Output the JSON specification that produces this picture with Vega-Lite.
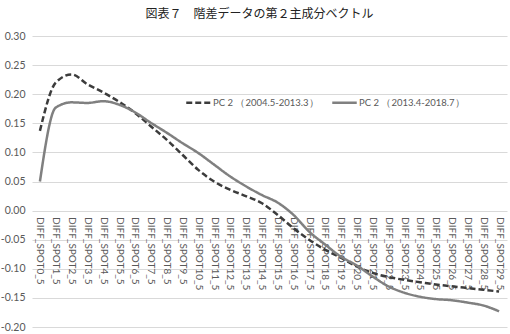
{
  "$schema": "https://vega.github.io/schema/vega-lite/v6.json",
  "width": 475,
  "height": 291,
  "autosize": {"type": "none"},
  "padding": {"left": 32, "top": 36, "right": 3, "bottom": 7},
  "background": "white",
  "title": {
    "text": "図表７　階差データの第２主成分ベクトル",
    "font": "Noto Sans CJK JP",
    "fontSize": 12,
    "fontWeight": "normal",
    "color": "#222222",
    "anchor": "middle",
    "frame": "group",
    "dx": -10,
    "offset": 10
  },
  "config": {
    "view": {"stroke": null},
    "font": "Lato"
  },
  "datasets": {
    "pc": [
      {"spot": "DIFF_SPOT0_5", "series": "PC 2 （2004.5-2013.3）", "value": 0.137},
      {"spot": "DIFF_SPOT1_5", "series": "PC 2 （2004.5-2013.3）", "value": 0.220},
      {"spot": "DIFF_SPOT2_5", "series": "PC 2 （2004.5-2013.3）", "value": 0.234},
      {"spot": "DIFF_SPOT3_5", "series": "PC 2 （2004.5-2013.3）", "value": 0.217},
      {"spot": "DIFF_SPOT4_5", "series": "PC 2 （2004.5-2013.3）", "value": 0.203},
      {"spot": "DIFF_SPOT5_5", "series": "PC 2 （2004.5-2013.3）", "value": 0.187},
      {"spot": "DIFF_SPOT6_5", "series": "PC 2 （2004.5-2013.3）", "value": 0.168},
      {"spot": "DIFF_SPOT7_5", "series": "PC 2 （2004.5-2013.3）", "value": 0.145},
      {"spot": "DIFF_SPOT8_5", "series": "PC 2 （2004.5-2013.3）", "value": 0.122},
      {"spot": "DIFF_SPOT9_5", "series": "PC 2 （2004.5-2013.3）", "value": 0.096},
      {"spot": "DIFF_SPOT10_5", "series": "PC 2 （2004.5-2013.3）", "value": 0.070},
      {"spot": "DIFF_SPOT11_5", "series": "PC 2 （2004.5-2013.3）", "value": 0.050},
      {"spot": "DIFF_SPOT12_5", "series": "PC 2 （2004.5-2013.3）", "value": 0.036},
      {"spot": "DIFF_SPOT13_5", "series": "PC 2 （2004.5-2013.3）", "value": 0.025},
      {"spot": "DIFF_SPOT14_5", "series": "PC 2 （2004.5-2013.3）", "value": 0.013},
      {"spot": "DIFF_SPOT15_5", "series": "PC 2 （2004.5-2013.3）", "value": -0.007},
      {"spot": "DIFF_SPOT16_5", "series": "PC 2 （2004.5-2013.3）", "value": -0.030},
      {"spot": "DIFF_SPOT17_5", "series": "PC 2 （2004.5-2013.3）", "value": -0.050},
      {"spot": "DIFF_SPOT18_5", "series": "PC 2 （2004.5-2013.3）", "value": -0.067},
      {"spot": "DIFF_SPOT19_5", "series": "PC 2 （2004.5-2013.3）", "value": -0.081},
      {"spot": "DIFF_SPOT20_5", "series": "PC 2 （2004.5-2013.3）", "value": -0.096},
      {"spot": "DIFF_SPOT21_5", "series": "PC 2 （2004.5-2013.3）", "value": -0.107},
      {"spot": "DIFF_SPOT22_5", "series": "PC 2 （2004.5-2013.3）", "value": -0.114},
      {"spot": "DIFF_SPOT23_5", "series": "PC 2 （2004.5-2013.3）", "value": -0.119},
      {"spot": "DIFF_SPOT24_5", "series": "PC 2 （2004.5-2013.3）", "value": -0.123},
      {"spot": "DIFF_SPOT25_5", "series": "PC 2 （2004.5-2013.3）", "value": -0.127},
      {"spot": "DIFF_SPOT26_5", "series": "PC 2 （2004.5-2013.3）", "value": -0.130},
      {"spot": "DIFF_SPOT27_5", "series": "PC 2 （2004.5-2013.3）", "value": -0.133},
      {"spot": "DIFF_SPOT28_5", "series": "PC 2 （2004.5-2013.3）", "value": -0.136},
      {"spot": "DIFF_SPOT29_5", "series": "PC 2 （2004.5-2013.3）", "value": -0.139},
      {"spot": "DIFF_SPOT0_5", "series": "PC 2 （2013.4-2018.7）", "value": 0.050},
      {"spot": "DIFF_SPOT1_5", "series": "PC 2 （2013.4-2018.7）", "value": 0.177},
      {"spot": "DIFF_SPOT2_5", "series": "PC 2 （2013.4-2018.7）", "value": 0.186},
      {"spot": "DIFF_SPOT3_5", "series": "PC 2 （2013.4-2018.7）", "value": 0.185},
      {"spot": "DIFF_SPOT4_5", "series": "PC 2 （2013.4-2018.7）", "value": 0.188},
      {"spot": "DIFF_SPOT5_5", "series": "PC 2 （2013.4-2018.7）", "value": 0.182},
      {"spot": "DIFF_SPOT6_5", "series": "PC 2 （2013.4-2018.7）", "value": 0.169},
      {"spot": "DIFF_SPOT7_5", "series": "PC 2 （2013.4-2018.7）", "value": 0.151},
      {"spot": "DIFF_SPOT8_5", "series": "PC 2 （2013.4-2018.7）", "value": 0.134},
      {"spot": "DIFF_SPOT9_5", "series": "PC 2 （2013.4-2018.7）", "value": 0.116},
      {"spot": "DIFF_SPOT10_5", "series": "PC 2 （2013.4-2018.7）", "value": 0.099},
      {"spot": "DIFF_SPOT11_5", "series": "PC 2 （2013.4-2018.7）", "value": 0.079},
      {"spot": "DIFF_SPOT12_5", "series": "PC 2 （2013.4-2018.7）", "value": 0.059},
      {"spot": "DIFF_SPOT13_5", "series": "PC 2 （2013.4-2018.7）", "value": 0.042},
      {"spot": "DIFF_SPOT14_5", "series": "PC 2 （2013.4-2018.7）", "value": 0.027},
      {"spot": "DIFF_SPOT15_5", "series": "PC 2 （2013.4-2018.7）", "value": 0.014},
      {"spot": "DIFF_SPOT16_5", "series": "PC 2 （2013.4-2018.7）", "value": -0.007},
      {"spot": "DIFF_SPOT17_5", "series": "PC 2 （2013.4-2018.7）", "value": -0.036},
      {"spot": "DIFF_SPOT18_5", "series": "PC 2 （2013.4-2018.7）", "value": -0.058},
      {"spot": "DIFF_SPOT19_5", "series": "PC 2 （2013.4-2018.7）", "value": -0.079},
      {"spot": "DIFF_SPOT20_5", "series": "PC 2 （2013.4-2018.7）", "value": -0.094},
      {"spot": "DIFF_SPOT21_5", "series": "PC 2 （2013.4-2018.7）", "value": -0.113},
      {"spot": "DIFF_SPOT22_5", "series": "PC 2 （2013.4-2018.7）", "value": -0.130},
      {"spot": "DIFF_SPOT23_5", "series": "PC 2 （2013.4-2018.7）", "value": -0.141},
      {"spot": "DIFF_SPOT24_5", "series": "PC 2 （2013.4-2018.7）", "value": -0.148},
      {"spot": "DIFF_SPOT25_5", "series": "PC 2 （2013.4-2018.7）", "value": -0.152},
      {"spot": "DIFF_SPOT26_5", "series": "PC 2 （2013.4-2018.7）", "value": -0.154},
      {"spot": "DIFF_SPOT27_5", "series": "PC 2 （2013.4-2018.7）", "value": -0.158},
      {"spot": "DIFF_SPOT28_5", "series": "PC 2 （2013.4-2018.7）", "value": -0.163},
      {"spot": "DIFF_SPOT29_5", "series": "PC 2 （2013.4-2018.7）", "value": -0.173}
    ]
  },
  "data": {"name": "pc"},
  "mark": {"type": "line", "interpolate": "monotone", "strokeWidth": 2.5},
  "encoding": {
    "x": {
      "field": "spot",
      "type": "nominal",
      "sort": null,
      "scale": {"type": "point", "padding": 0.5},
      "axis": {
        "title": null,
        "domain": false,
        "ticks": false,
        "grid": false,
        "labelAngle": 90,
        "labelAlign": "left",
        "labelBaseline": "middle",
        "labelPadding": 6,
        "labelFontSize": 10,
        "labelColor": "#595959",
        "labelFont": "Lato",
        "offset": -116.4
      }
    },
    "y": {
      "field": "value",
      "type": "quantitative",
      "scale": {"domain": [-0.2, 0.3], "nice": false, "zero": false},
      "axis": {
        "title": null,
        "values": [-0.2, -0.15, -0.1, -0.05, 0, 0.05, 0.1, 0.15, 0.2, 0.25, 0.3],
        "labelExpr": "replace(format(datum.value, '.2f'), '\u2212', '-')",
        "domain": false,
        "ticks": false,
        "grid": true,
        "gridColor": "#d9d9d9",
        "gridWidth": 1,
        "labelPadding": 7,
        "labelFontSize": 10.5,
        "labelColor": "#595959",
        "labelFont": "Lato"
      }
    },
    "color": {
      "field": "series",
      "type": "nominal",
      "sort": null,
      "scale": {"range": ["#3c3c3c", "#808080"]},
      "legend": {
        "title": null,
        "orient": "none",
        "legendX": 153,
        "legendY": 53,
        "direction": "horizontal",
        "symbolType": "stroke",
        "symbolSize": 600,
        "symbolStrokeWidth": 2.5,
        "labelFontSize": 9.5,
        "labelColor": "#595959",
        "labelFont": "Lato",
        "labelOffset": 1,
        "columnPadding": 8
      }
    },
    "strokeDash": {
      "field": "series",
      "type": "nominal",
      "sort": null,
      "scale": {"range": [[6, 3], [1, 0]]},
      "legend": {
        "title": null,
        "orient": "none",
        "legendX": 153,
        "legendY": 53,
        "direction": "horizontal",
        "symbolType": "stroke",
        "symbolSize": 600,
        "symbolStrokeWidth": 2.5,
        "labelFontSize": 9.5,
        "labelColor": "#595959",
        "labelFont": "Lato",
        "labelOffset": 1,
        "columnPadding": 8
      }
    }
  }
}
